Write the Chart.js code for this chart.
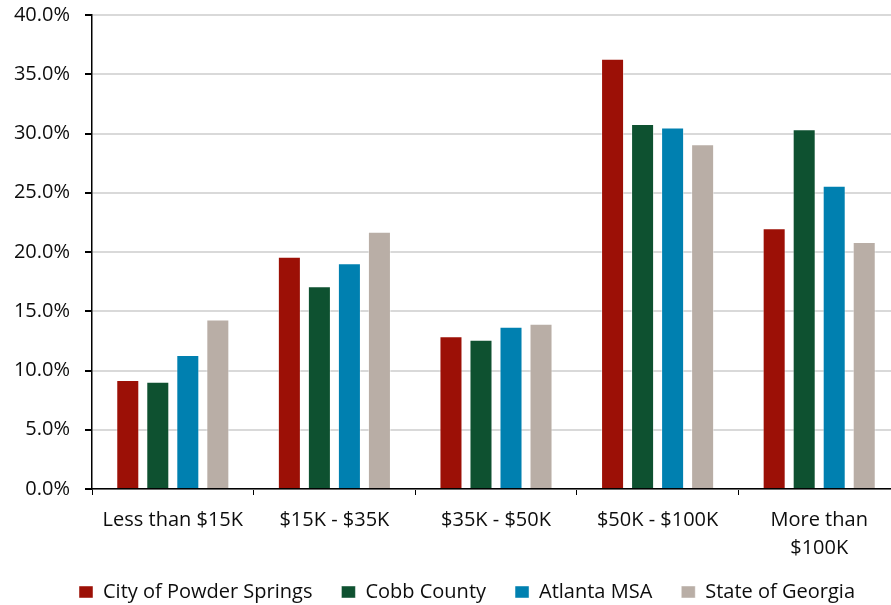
<!DOCTYPE html>
<html>
<head>
<meta charset="utf-8">
<script src="https://cdn.jsdelivr.net/npm/chart.js@4.4.1/dist/chart.umd.min.js"></script>
<style>
  html, body { margin: 0; padding: 0; background: #fff; overflow: hidden; }
  #wrap { width: 900px; height: 605px; }
</style>
</head>
<body>
<div id="wrap"><canvas id="myChart"></canvas></div>
<script>
// Household income distribution, share of households by bracket
const categories = ['Less than $15K', '$15K - $35K', '$35K - $50K', '$50K - $100K', ['More than', '$100K']];
const seriesNames = ['City of Powder Springs', 'Cobb County', 'Atlanta MSA', 'State of Georgia'];
const powderSprings = [9.2, 19.6, 12.9, 36.3, 22.0];
const cobbCounty = [9.05, 17.1, 12.6, 30.8, 30.35];
const atlantaMsa = [11.3, 19.05, 13.7, 30.5, 25.6];
const stateOfGeorgia = [14.3, 21.7, 13.95, 29.1, 20.85];
const yTicks = [0, 5, 10, 15, 20, 25, 30, 35, 40];

const colors = ['#9c1006', '#0e5130', '#0080b0', '#b9aea6'];
const seriesValues = [powderSprings, cobbCounty, atlantaMsa, stateOfGeorgia];

const fontFamily = '"Open Sans", Lato, sans-serif';
const textColor = '#0d0d0d';
const ctx = document.getElementById('myChart').getContext('2d');

// shift the legend row right/down and give the two-line x labels room
const layoutTweaks = {
    id: 'layoutTweaks',
    afterLayout(chart) {
        const lg = chart.legend;
        lg.left += 17; lg.right += 17;
        lg.top += 7; lg.bottom += 7;
        chart.scales.x.bottom += 24;
    }
};

const chart = new Chart(ctx, {
    type: 'bar',
    data: {
        labels: categories,
        datasets: seriesNames.map((name, i) => ({
            label: name,
            data: seriesValues[i],
            backgroundColor: colors[i],
            borderColor: 'rgba(255,255,255,0.45)',
            borderWidth: 1,
            barPercentage: 0.767,
            categoryPercentage: 0.743
        }))
    },
    plugins: [layoutTweaks],
    options: {
        responsive: true,
        maintainAspectRatio: false,
        animation: false,
        layout: { padding: { top: 15, right: 0, left: 0, bottom: 0 } },
        plugins: {
            tooltip: { enabled: false },
            legend: {
                position: 'bottom',
                labels: {
                    boxWidth: 14,
                    boxHeight: 12,
                    padding: 29,
                    color: textColor,
                    font: { family: fontFamily, size: 20 }
                }
            }
        },
        scales: {
            x: {
                grid: {
                    drawOnChartArea: false,
                    drawTicks: true,
                    tickLength: 6,
                    color: '#000'
                },
                border: { color: '#000', width: 1.5 },
                ticks: {
                    color: textColor,
                    padding: 11,
                    maxRotation: 0,
                    font: { family: fontFamily, size: 20, lineHeight: 1.4 }
                },
                afterFit: s => { s.height = 57; }
            },
            y: {
                min: 0,
                max: 40,
                afterBuildTicks: s => { s.ticks = yTicks.map(v => ({ value: v })); },
                grid: {
                    color: '#d9d9d9',
                    lineWidth: 2,
                    tickColor: '#000',
                    tickLength: 7
                },
                border: { color: '#000', width: 1.5 },
                ticks: {
                    color: textColor,
                    padding: 15,
                    font: { family: fontFamily, size: 20 },
                    callback: value => value.toFixed(1) + '%'
                },
                afterFit: s => {
                    s.width = 92;
                    s.paddingTop = 0;
                    s.paddingBottom = 0;
                }
            }
        }
    }
});
</script>
</body>
</html>
